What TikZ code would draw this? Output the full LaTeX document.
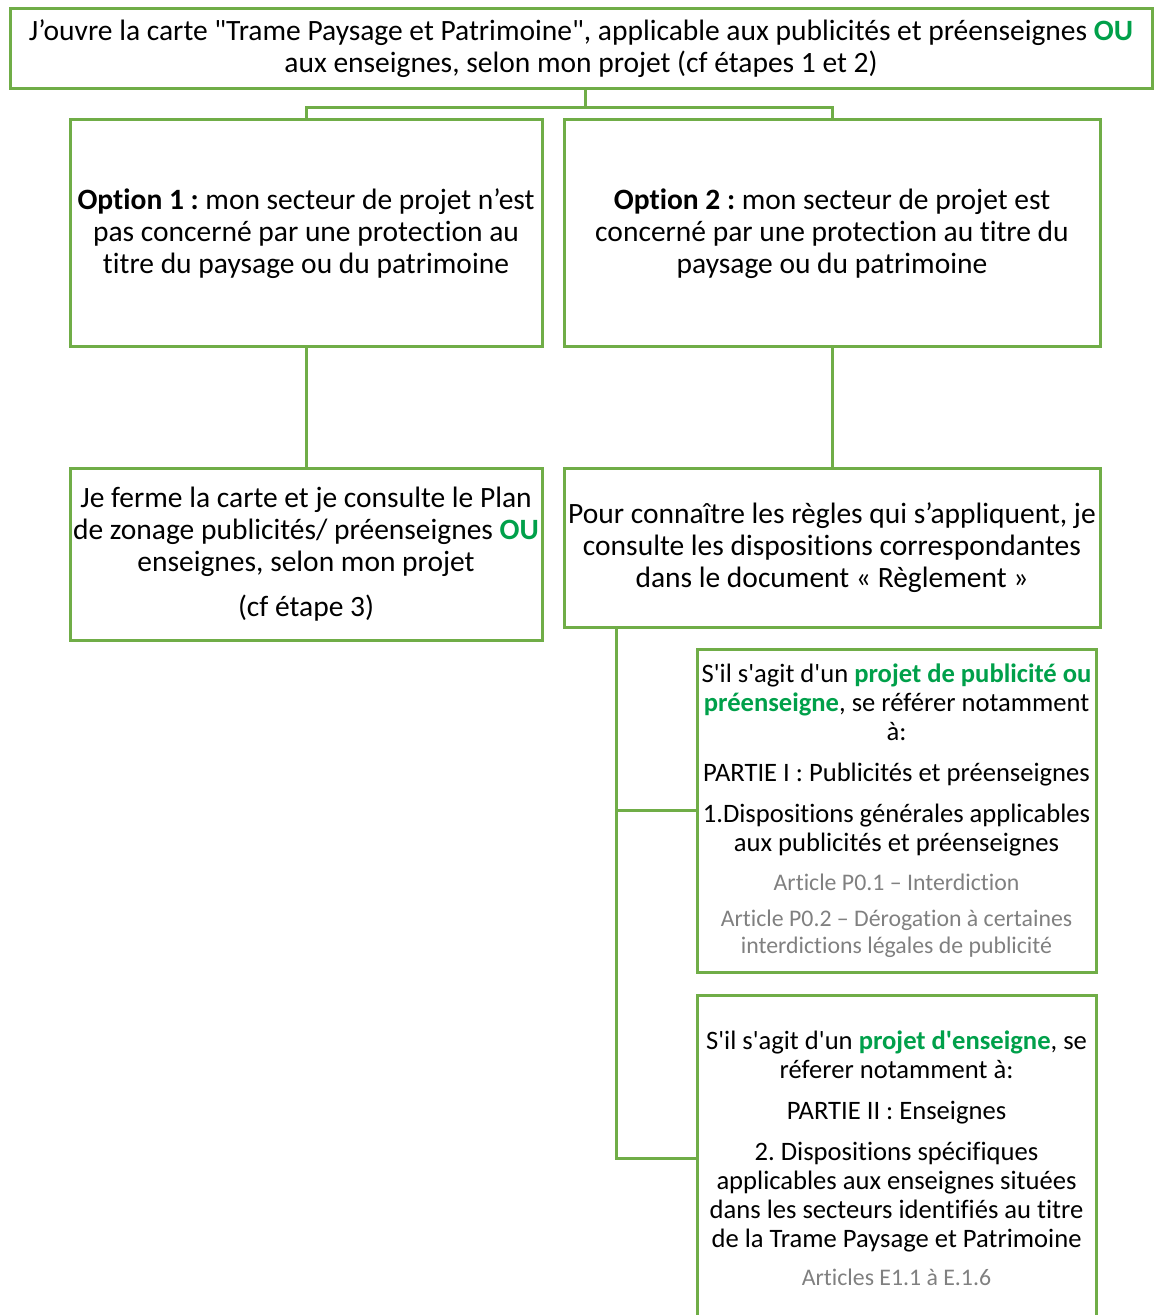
\documentclass[tikz,border=0pt]{standalone}
\usepackage{fontspec}
\setmainfont{Carlito}[Ligatures={TeXOff,NoCommon}]
\usepackage{xcolor}
\usetikzlibrary{positioning}

\definecolor{framegreen}{HTML}{70AD47}
\definecolor{textgreen}{HTML}{00A04A}
\definecolor{notegray}{HTML}{808080}
\newcommand{\greenb}[1]{\textcolor{textgreen}{\textbf{#1}}}
\newcommand{\notetxt}[1]{{\color{notegray}\fontsize{11.9}{13.5}\selectfont #1}}
\frenchspacing

\begin{document}
\begin{tikzpicture}[x=0.5pt,y=-0.5pt,
        box/.style={draw=framegreen, line width=1.5pt, inner sep=0pt, align=center,
                    font=\fontsize{14.75}{16}\selectfont},
        smallbox/.style={box, font=\fontsize{13.3}{14.5}\selectfont},
        link/.style={draw=framegreen, line width=1.5pt}]
    \useasboundingbox (0,0) rectangle (1154,1315);
    \clip (0,0) rectangle (1154,1315);

    % first step
    \node[box, minimum width=571pt, minimum height=40pt] (top) at (581,48.5)
        {J’ouvre la carte "Trame Paysage et Patrimoine", applicable aux publicités et préenseignes \greenb{OU}\\
         aux enseignes, selon mon projet (cf étapes 1 et 2)};

    % the two options
    \node[box, minimum width=236pt, minimum height=113.5pt] (opt1) at (306,233.5)
        {\textbf{Option 1 :} mon secteur de projet n’est\\
         pas concerné par une protection au\\
         titre du paysage ou du patrimoine};
    \node[box, minimum width=268pt, minimum height=113.5pt] (opt2) at (832,233.5)
        {\textbf{Option 2 :} mon secteur de projet est\\
         concerné par une protection au titre du\\
         paysage ou du patrimoine};

    \node[box, minimum width=236pt, minimum height=86pt] (ferme) at (306,554)
        {Je ferme la carte et je consulte le Plan\\
         de zonage publicités/ préenseignes \greenb{OU}\\
         enseignes, selon mon projet\\[6.5pt]
         (cf étape 3)};
    \node[box, minimum width=268pt, minimum height=79.5pt] (consult) at (832,547.5)
        {Pour connaître les règles qui s’appliquent, je\\
         consulte les dispositions correspondantes\\
         dans le document « Règlement »};

    % references in the Règlement
    \node[smallbox, minimum width=199.5pt, minimum height=161.5pt] (pub) at (896.5,810.5)
        {S'il s'agit d'un \greenb{projet de publicité ou}\\
         \greenb{préenseigne}, se référer notamment\\
         à:\\[6pt]
         PARTIE I : Publicités et préenseignes\\[6pt]
         1.Dispositions générales applicables\\
         aux publicités et préenseignes\\[5pt]
         \notetxt{Article P0.1 – Interdiction}\\[3.5pt]
         \notetxt{Article P0.2 – Dérogation à certaines}\\[-1pt]
         \notetxt{interdictions légales de publicité}};
    \node[smallbox, minimum width=199.5pt, minimum height=163pt] (ens) at (896.5,1158)
        {S'il s'agit d'un \greenb{projet d'enseigne}, se\\
         réferer notamment à:\\[6pt]
         PARTIE II : Enseignes\\[6pt]
         2. Dispositions spécifiques\\
         applicables aux enseignes situées\\
         dans les secteurs identifiés au titre\\
         de la Trame Paysage et Patrimoine\\[4.5pt]
         \notetxt{Articles E1.1 à E.1.6}};

    % connectors
    \coordinate (fork) at (585,108);
    \draw[link] (fork |- top.south) -- (fork);
    \draw[link] (opt1.north) |- (fork) -| (opt2.north);
    \draw[link] (opt1.south) -- (ferme.north);
    \draw[link] (opt2.south) -- (consult.north);
    \coordinate (trunk) at ([xshift=27pt]consult.south west);
    \draw[link] (trunk) |- (ens.west);
    \draw[link] (trunk |- pub.west) -- (pub.west);
\end{tikzpicture}
\end{document}
